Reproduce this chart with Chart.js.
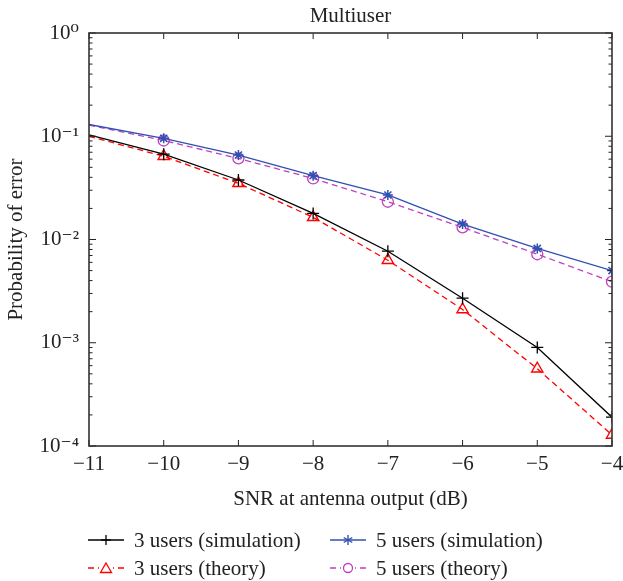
<!DOCTYPE html>
<html lang="en">
<head>
  <meta charset="UTF-8">
  <title>Multiuser</title>
  <script src="https://cdn.jsdelivr.net/npm/chart.js"></script>
  <style>
    body {
      margin: 0;
      padding: 0;
      background: white;
      font-family: "Liberation Serif", "DejaVu Serif", serif;
    }
    #wrap {
      position: relative;
      width: 623px;
      height: 581px;
    }
    .leg {
      position: absolute;
      font-size: 21px;
      color: #222;
      white-space: nowrap;
      line-height: 22px;
    }
    .leg svg {
      vertical-align: middle;
      margin-right: 10px;
      position: relative;
      top: -2px;
    }
  </style>
</head>
<body>
<div id="wrap">
  <canvas id="berChart"></canvas>

  <!-- legend, two columns like the figure -->
  <div class="leg" style="left:88px; top:529px;">
    <svg width="36" height="12"><line x1="0" y1="6" x2="36" y2="6" stroke="#000" stroke-width="1.3"/><line x1="18" y1="1" x2="18" y2="11" stroke="#000" stroke-width="1.3"/><line x1="13" y1="6" x2="23" y2="6" stroke="#000" stroke-width="1.3"/></svg>3 users (simulation)
  </div>
  <div class="leg" style="left:88px; top:557px;">
    <svg width="36" height="12"><line x1="0" y1="6" x2="36" y2="6" stroke="#ff0000" stroke-width="1.3" stroke-dasharray="6,4"/><rect x="11" y="0" width="14" height="12" fill="white"/><polygon points="18,1 23.5,10.5 12.5,10.5" fill="none" stroke="#ff0000" stroke-width="1.3"/></svg>3 users (theory)
  </div>
  <div class="leg" style="left:330px; top:529px;">
    <svg width="36" height="12"><line x1="0" y1="6" x2="36" y2="6" stroke="#2f50b0" stroke-width="1.3"/><g stroke="#2f50b0" stroke-width="1.4"><line x1="18" y1="1" x2="18" y2="11"/><line x1="13.7" y1="3.5" x2="22.3" y2="8.5"/><line x1="13.7" y1="8.5" x2="22.3" y2="3.5"/></g></svg>5 users (simulation)
  </div>
  <div class="leg" style="left:330px; top:557px;">
    <svg width="36" height="12"><line x1="0" y1="6" x2="36" y2="6" stroke="#c040c0" stroke-width="1.3" stroke-dasharray="6,4"/><rect x="11" y="0" width="14" height="12" fill="white"/><circle cx="18" cy="6" r="4.5" fill="none" stroke="#c040c0" stroke-width="1.3"/></svg>5 users (theory)
  </div>
</div>

<script>
  // SNR values (dB) on the x axis
  const snr = [-11, -10, -9, -8, -7, -6, -5, -4];

  // probability of error
  const sim3 = [0.103, 0.067, 0.0377, 0.0179, 0.0077, 0.0027, 0.0009, 0.00019];
  const theory3 = [0.100, 0.064, 0.035, 0.0164, 0.0063, 0.0021, 0.00056, 0.000128];
  const sim5 = [0.130, 0.0955, 0.0658, 0.0415, 0.027, 0.0141, 0.0082, 0.0050];
  const theory5 = [0.128, 0.091, 0.061, 0.039, 0.0232, 0.0131, 0.0072, 0.0039];

  // y axis decades that get a label
  const yDecades = [1, 0.1, 0.01, 0.001, 0.0001];

  const serif = "'Liberation Serif', 'DejaVu Serif', serif";
  const supDigits = { '0': '⁰', '1': '¹', '2': '²', '3': '³', '4': '⁴', '-': '⁻' };

  function toPoints(arr) {
    return arr.map((v, i) => ({ x: snr[i], y: v }));
  }

  // no marker drawn on the first point (-11 dB)
  function radii(r) {
    return snr.map((s, i) => (i === 0 ? 0 : r));
  }

  // inward ticks and the box frame
  const frameTicks = {
    id: 'frameTicks',
    afterDraw(chart) {
      const ctx = chart.ctx;
      const a = chart.chartArea;
      const xs = chart.scales.x;
      const ys = chart.scales.y;
      ctx.save();
      ctx.strokeStyle = '#222';
      ctx.lineWidth = 1;
      ctx.beginPath();
      snr.forEach(v => {
        const px = xs.getPixelForValue(v);
        ctx.moveTo(px, a.bottom);
        ctx.lineTo(px, a.bottom - 6);
        ctx.moveTo(px, a.top);
        ctx.lineTo(px, a.top + 6);
      });
      for (let e = -4; e <= 0; e++) {
        for (let m = 1; m <= 9; m++) {
          const v = m * Math.pow(10, e);
          if (v > 1.0000001) break;
          const py = ys.getPixelForValue(v);
          const len = m === 1 ? 7 : 3.5;
          ctx.moveTo(a.left, py);
          ctx.lineTo(a.left + len, py);
          ctx.moveTo(a.right, py);
          ctx.lineTo(a.right - len, py);
        }
      }
      ctx.stroke();
      ctx.lineWidth = 1.6;
      ctx.strokeStyle = '#333';
      ctx.strokeRect(a.left, a.top, a.right - a.left, a.bottom - a.top);
      ctx.restore();
    }
  };

  const ctx = document.getElementById('berChart').getContext('2d');
  const berChart = new Chart(ctx, {
    type: 'line',
    data: {
      datasets: [
        {
          label: '3 users (simulation)', data: toPoints(sim3),
          borderColor: '#000', borderWidth: 1.3, pointStyle: 'cross',
          pointRadius: radii(6), pointBorderColor: '#000', pointBorderWidth: 1.3, fill: false
        },
        {
          label: '3 users (theory)', data: toPoints(theory3),
          borderColor: '#ff0000', borderWidth: 1.3, borderDash: [6, 4], pointStyle: 'triangle',
          pointRadius: radii(6.5), pointBorderColor: '#ff0000', pointBackgroundColor: 'rgba(0,0,0,0)',
          pointBorderWidth: 1.4, fill: false
        },
        {
          label: '5 users (simulation)', data: toPoints(sim5),
          borderColor: '#2f50b0', borderWidth: 1.3, pointStyle: 'star',
          pointRadius: radii(5), pointBorderColor: '#2f50b0', pointBorderWidth: 1.5, fill: false
        },
        {
          label: '5 users (theory)', data: toPoints(theory5),
          borderColor: '#c040c0', borderWidth: 1.3, borderDash: [6, 4], pointStyle: 'circle',
          pointRadius: radii(5.5), pointBorderColor: '#c040c0', pointBackgroundColor: 'rgba(0,0,0,0)',
          pointBorderWidth: 1.3, fill: false
        }
      ]
    },
    options: {
      responsive: true,
      maintainAspectRatio: false,
      animation: false,
      layout: { padding: { top: 0, right: 11, bottom: 65, left: 0 } },
      plugins: {
        legend: { display: false },
        tooltip: { enabled: false },
        title: {
          display: true,
          text: 'Multiuser',
          fullSize: false,
          color: '#222',
          font: { family: serif, size: 21, weight: 'normal' },
          padding: { top: 4, bottom: 3.8 }
        }
      },
      scales: {
        x: {
          type: 'linear',
          min: -11,
          max: -4,
          grid: { display: false, drawTicks: false },
          border: { display: false },
          ticks: {
            stepSize: 1,
            padding: 6,
            maxRotation: 0,
            color: '#222',
            font: { family: serif, size: 21 },
            callback: v => String(v).replace('-', '\u2212')
          },
          title: {
            display: true,
            text: 'SNR at antenna output (dB)',
            color: '#222',
            font: { family: serif, size: 21 }
          },
          afterFit: s => { s.height = 70; s.paddingLeft = 0; s.paddingRight = 0; }
        },
        y: {
          type: 'logarithmic',
          min: 0.0001,
          max: 1,
          grid: { display: false, drawTicks: false },
          border: { display: false },
          afterBuildTicks: s => { s.ticks = yDecades.map(v => ({ value: v })); },
          ticks: {
            autoSkip: false,
            padding: 10,
            color: '#222',
            font: { family: serif, size: 21 },
            callback: v => {
              const e = Math.round(Math.log10(v));
              return '10' + String(e).split('').map(c => supDigits[c]).join('');
            }
          },
          title: {
            display: true,
            text: 'Probability of error',
            color: '#222',
            font: { family: serif, size: 21 },
            padding: { top: 4, bottom: 4 }
          },
          afterFit: s => { s.width = 89; s.paddingTop = 0; s.paddingBottom = 0; }
        }
      }
    },
    plugins: [frameTicks]
  });
</script>
</body>
</html>
